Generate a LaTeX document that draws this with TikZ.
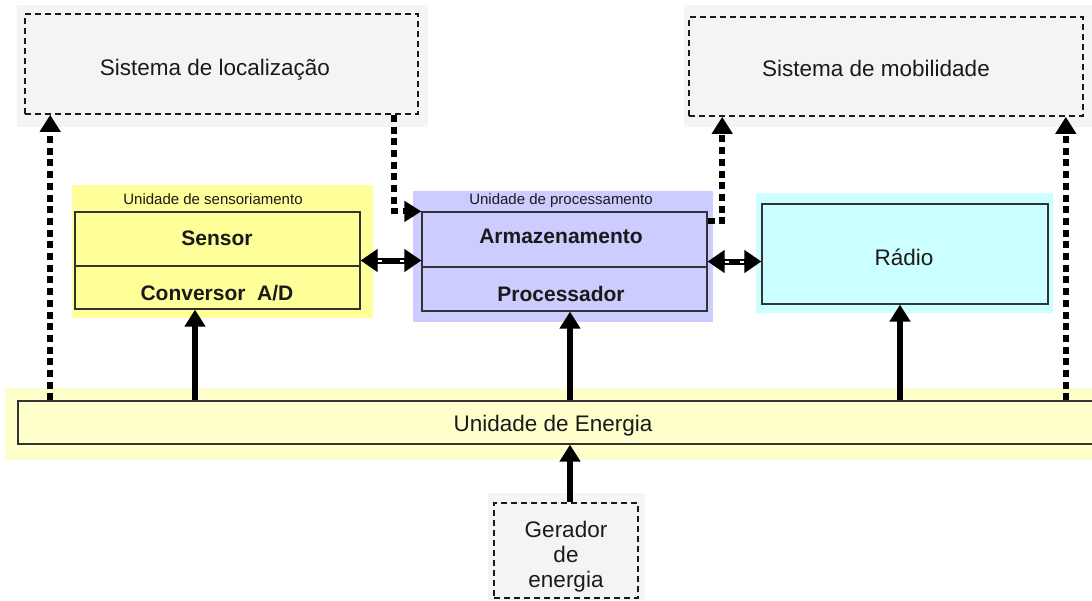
\documentclass[tikz,border=0pt]{standalone}
\usepackage{fontspec}
\setmainfont{Liberation Sans}
\usetikzlibrary{arrows.meta,calc}

\definecolor{sensY}{HTML}{FFFF99}
\definecolor{procB}{HTML}{CCCCFF}
\definecolor{radC}{HTML}{CCFFFF}
\definecolor{enerY}{HTML}{FFFFCC}
\definecolor{extG}{HTML}{F4F4F4}
\definecolor{ink}{HTML}{1A1A1A}
\definecolor{edge}{HTML}{333333}

\begin{document}
\begin{tikzpicture}[x=1pt,y=-1pt,
  bigtxt/.style={font=\fontsize{22.5}{25}\selectfont, text=ink, inner sep=0pt},
  boldtxt/.style={font=\fontsize{21}{24}\selectfont\bfseries, text=ink, inner sep=0pt},
  smalltxt/.style={font=\fontsize{15}{17}\selectfont, text=ink, inner sep=0pt},
  unitbox/.style={draw=edge, line width=1.2pt, inner sep=0pt},
  extbox/.style={draw=ink, line width=1.6pt, dash pattern=on 6pt off 4pt, inner sep=0pt},
  powerarrow/.style={draw=black, line width=6pt, -{Triangle[width=20pt,length=17pt]}},
  dotarrow/.style={draw=black, line width=6pt, dash pattern=on 7pt off 4.7pt, -{Triangle[width=20pt,length=17pt]}},
  linkarrow/.style={draw=black, line width=6pt, {Triangle[width=22pt,length=17pt]}-{Triangle[width=22pt,length=17pt]}},
  tipnotch/.style={draw=white, line width=2pt},
]
\useasboundingbox (0,0) rectangle (1092,600);
\clip (0,0) rectangle (1092,600);

% soft backgrounds of the units
\fill[extG]  (17,5)    rectangle (428,127);
\fill[extG]  (684,5)   rectangle (1092,127);
\fill[extG]  (488,493) rectangle (645,600);
\fill[sensY] (72,185)  rectangle (373,318);
\fill[procB] (413,191) rectangle (713,322);
\fill[radC]  (756,193) rectangle (1053,313);
\fill[enerY] (5,388)   rectangle (1100,460);

% external systems
\node[extbox, minimum width=393pt, minimum height=100pt] (loc) at (221.5,64) {};
\node[bigtxt, anchor=base] (locT) at (215,75) {Sistema de localização};
\node[extbox, minimum width=394pt, minimum height=99pt] (mob) at (886,66.5) {};
\node[bigtxt, anchor=base] (mobT) at (876,76) {Sistema de mobilidade};

% sensing unit
\node[smalltxt, anchor=base] (sensTitle) at (213,204) {Unidade de sensoriamento};
\node[unitbox, fill=sensY, minimum width=285pt, minimum height=97pt] (sens) at (217.5,260.5) {};
\draw[edge, line width=1.2pt] ([yshift=-5.5pt]sens.west) -- ([yshift=-5.5pt]sens.east);
\node[boldtxt, anchor=base] (sensA) at (217,245) {Sensor};
\node[boldtxt, anchor=base] (sensB) at (217,300) {Conversor \ A/D};

% processing unit
\node[smalltxt, anchor=base] (procTitle) at (561,204) {Unidade de processamento};
\node[unitbox, fill=procB, minimum width=285pt, minimum height=99pt] (proc) at (564.5,261.5) {};
\draw[edge, line width=1.2pt] ([yshift=-5.5pt]proc.west) -- ([yshift=-5.5pt]proc.east);
\node[boldtxt, anchor=base] (procA) at (561,243) {Armazenamento};
\node[boldtxt, anchor=base] (procB) at (561,301) {Processador};

% radio
\node[unitbox, fill=radC, minimum width=286pt, minimum height=100pt] (rad) at (905,254) {};
\node[bigtxt, anchor=base] (radT) at (904,265) {Rádio};

% energy unit and generator
\node[unitbox, fill=enerY, minimum width=1082pt, minimum height=43pt] (ener) at (559,422.5) {};
\node[bigtxt, anchor=base] (enerT) at (553,431) {Unidade de Energia};
\node[extbox, minimum width=144pt, minimum height=95pt] (gen) at (566,550.5) {};
\node[bigtxt, align=center] (genT) at (566,557) {Gerador\\de\\energia};

% power supply lines
\draw[powerarrow] ($(sens.south |- ener.north)+(-22.5,0)$) -- ($(sens.south)+(-22.5,0)$);
\draw[powerarrow] ($(proc.south |- ener.north)+(5.5,0)$) -- ($(proc.south)+(5.5,0)$);
\draw[powerarrow] ($(rad.south |- ener.north)+(-5,0)$) -- ($(rad.south)+(-5,0)$);
\draw[powerarrow] ($(gen.north)+(4,0)$) -- ($(gen.north |- ener.south)+(4,0)$);

% optional subsystems
\draw[dotarrow] ($(ener.north -| loc.west)+(26,0)$) -- ($(loc.south west)+(26,0)$);
\draw[dotarrow] ($(loc.south east)+(-25,0)$) |- (proc.north west);
\draw[dotarrow] ($(proc.north east)+(0,10)$) -| ($(mob.south west)+(34,0)$);
\draw[dotarrow] ($(ener.north -| mob.east)+(-18,0)$) -- ($(mob.south east)+(-18,0)$);

% data links
\draw[linkarrow] (sens.east) -- (sens.east -| proc.west);
\draw[linkarrow] (proc.east) -- (proc.east -| rad.west);
\draw[tipnotch] ($(sens.east)+(17,0)$) -- ($(sens.east)+(21,0)$);
\draw[tipnotch] ($(sens.east -| proc.west)+(-17,0)$) -- ($(sens.east -| proc.west)+(-21,0)$);
\draw[tipnotch] ($(proc.east)+(17,0)$) -- ($(proc.east)+(21,0)$);
\draw[tipnotch] ($(proc.east -| rad.west)+(-17,0)$) -- ($(proc.east -| rad.west)+(-21,0)$);
\end{tikzpicture}
\end{document}
